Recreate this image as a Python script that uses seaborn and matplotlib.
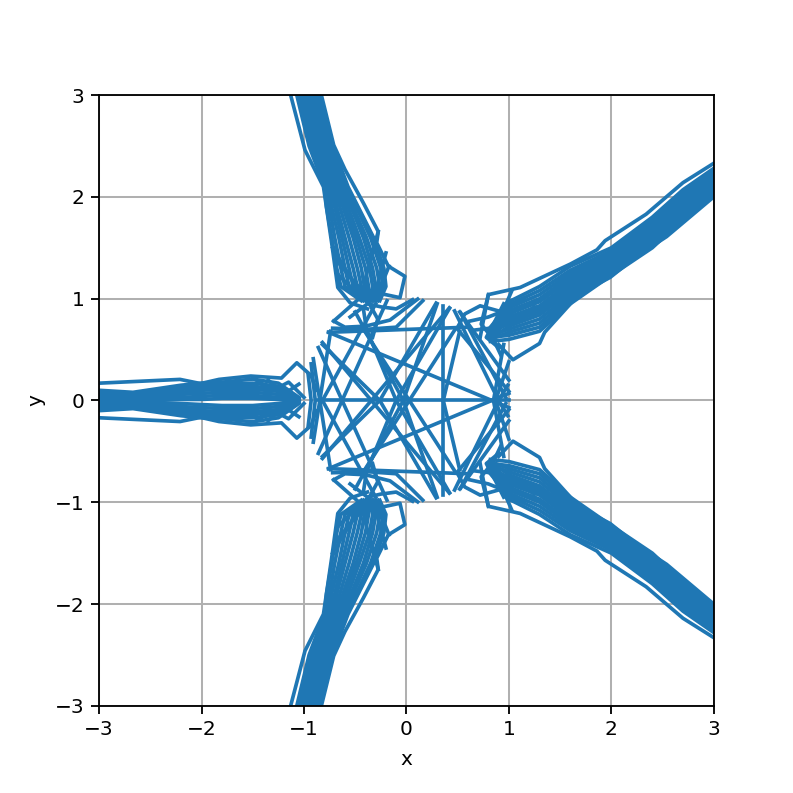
import pandas as pd
import seaborn as sns
import matplotlib.pyplot as plt

# upper right arm, y values at each x station
ur_x = [0.82, 1.0, 1.3, 1.6, 2.0, 2.4, 2.7, 3.0]
ur_rows = [
    [0.58, 0.60, 0.68, 0.95, 1.23, 1.50, 1.78, 2.03],
    [0.62, 0.64, 0.72, 0.98, 1.25, 1.52, 1.80, 2.05],
    [0.60, 0.67, 0.76, 1.01, 1.27, 1.54, 1.82, 2.07],
    [0.64, 0.70, 0.80, 1.04, 1.29, 1.56, 1.84, 2.09],
    [0.60, 0.73, 0.84, 1.07, 1.31, 1.58, 1.86, 2.11],
    [0.66, 0.76, 0.87, 1.10, 1.33, 1.61, 1.88, 2.13],
    [0.62, 0.79, 0.90, 1.13, 1.35, 1.63, 1.90, 2.15],
    [0.68, 0.82, 0.93, 1.16, 1.37, 1.65, 1.92, 2.17],
    [0.64, 0.85, 0.97, 1.19, 1.40, 1.68, 1.95, 2.19],
    [0.70, 0.88, 1.00, 1.22, 1.43, 1.71, 1.98, 2.21],
    [0.64, 0.91, 1.04, 1.25, 1.45, 1.74, 2.01, 2.24],
    [0.72, 0.94, 1.08, 1.28, 1.47, 1.77, 2.04, 2.26],
    [0.66, 0.97, 1.12, 1.32, 1.50, 1.80, 2.07, 2.28],
]

# lower right arm
lr_x = [0.82, 1.0, 1.3, 1.6, 2.0, 2.4, 2.7, 3.0]
lr_rows = [
    [-0.58, -0.60, -0.68, -0.95, -1.23, -1.50, -1.78, -2.03],
    [-0.62, -0.64, -0.72, -0.98, -1.25, -1.52, -1.80, -2.05],
    [-0.60, -0.67, -0.76, -1.01, -1.27, -1.54, -1.82, -2.07],
    [-0.64, -0.70, -0.80, -1.04, -1.29, -1.56, -1.84, -2.09],
    [-0.60, -0.73, -0.84, -1.07, -1.31, -1.58, -1.86, -2.11],
    [-0.66, -0.76, -0.87, -1.10, -1.33, -1.61, -1.88, -2.13],
    [-0.62, -0.79, -0.90, -1.13, -1.35, -1.63, -1.90, -2.15],
    [-0.68, -0.82, -0.93, -1.16, -1.37, -1.65, -1.92, -2.17],
    [-0.64, -0.85, -0.97, -1.19, -1.40, -1.68, -1.95, -2.19],
    [-0.70, -0.88, -1.00, -1.22, -1.43, -1.71, -1.98, -2.21],
    [-0.64, -0.91, -1.04, -1.25, -1.45, -1.74, -2.01, -2.24],
    [-0.72, -0.94, -1.08, -1.28, -1.47, -1.77, -2.04, -2.26],
    [-0.66, -0.97, -1.12, -1.32, -1.50, -1.80, -2.07, -2.28],
]

# left arm
left_x = [-3.0, -2.67, -2.2, -2.0, -1.8, -1.5, -1.25, -1.05]
left_rows = [
    [0.10, 0.08, 0.15, 0.17, 0.18, 0.21, 0.17, 0.03],
    [0.08, 0.07, 0.13, 0.14, 0.16, 0.17, 0.14, 0.00],
    [0.06, 0.05, 0.11, 0.12, 0.14, 0.14, 0.11, -0.02],
    [0.04, 0.04, 0.08, 0.10, 0.11, 0.11, 0.09, 0.02],
    [0.03, 0.03, 0.06, 0.07, 0.08, 0.08, 0.06, -0.01],
    [0.01, 0.01, 0.03, 0.04, 0.05, 0.05, 0.03, 0.00],
    [0.00, 0.00, 0.01, 0.01, 0.02, 0.02, 0.01, 0.00],
    [-0.01, -0.01, -0.03, -0.04, -0.05, -0.05, -0.03, 0.00],
    [-0.03, -0.03, -0.06, -0.07, -0.08, -0.08, -0.06, 0.01],
    [-0.04, -0.04, -0.08, -0.10, -0.11, -0.11, -0.09, -0.02],
    [-0.06, -0.05, -0.11, -0.12, -0.14, -0.14, -0.11, 0.02],
    [-0.08, -0.07, -0.13, -0.14, -0.16, -0.17, -0.14, 0.00],
    [-0.10, -0.08, -0.15, -0.17, -0.18, -0.21, -0.17, -0.03],
]

# top arm, x values at each y station
top_y = [3.0, 2.5, 2.1, 1.9, 1.6, 1.3, 1.12, 0.98]
top_rows = [
    [-1.07, -0.95, -0.80, -0.78, -0.73, -0.68, -0.64, -0.44],
    [-1.05, -0.93, -0.78, -0.75, -0.70, -0.64, -0.60, -0.42],
    [-1.03, -0.91, -0.76, -0.73, -0.66, -0.60, -0.56, -0.40],
    [-1.01, -0.89, -0.74, -0.70, -0.63, -0.56, -0.52, -0.39],
    [-0.99, -0.87, -0.72, -0.68, -0.60, -0.52, -0.48, -0.38],
    [-0.97, -0.85, -0.70, -0.65, -0.56, -0.48, -0.44, -0.37],
    [-0.95, -0.83, -0.68, -0.62, -0.52, -0.44, -0.41, -0.35],
    [-0.93, -0.81, -0.66, -0.60, -0.49, -0.40, -0.37, -0.34],
    [-0.91, -0.79, -0.64, -0.57, -0.46, -0.36, -0.33, -0.33],
    [-0.89, -0.77, -0.62, -0.54, -0.42, -0.33, -0.30, -0.31],
    [-0.87, -0.75, -0.60, -0.52, -0.39, -0.29, -0.26, -0.30],
    [-0.85, -0.73, -0.58, -0.49, -0.35, -0.25, -0.23, -0.28],
    [-0.84, -0.72, -0.57, -0.47, -0.32, -0.22, -0.20, -0.26],
]

# bottom arm
bot_y = [-3.0, -2.5, -2.1, -1.9, -1.6, -1.3, -1.12, -0.98]
bot_rows = [
    [-1.07, -0.95, -0.80, -0.78, -0.73, -0.68, -0.64, -0.44],
    [-1.05, -0.93, -0.78, -0.75, -0.70, -0.64, -0.60, -0.42],
    [-1.03, -0.91, -0.76, -0.73, -0.66, -0.60, -0.56, -0.40],
    [-1.01, -0.89, -0.74, -0.70, -0.63, -0.56, -0.52, -0.39],
    [-0.99, -0.87, -0.72, -0.68, -0.60, -0.52, -0.48, -0.38],
    [-0.97, -0.85, -0.70, -0.65, -0.56, -0.48, -0.44, -0.37],
    [-0.95, -0.83, -0.68, -0.62, -0.52, -0.44, -0.41, -0.35],
    [-0.93, -0.81, -0.66, -0.60, -0.49, -0.40, -0.37, -0.34],
    [-0.91, -0.79, -0.64, -0.57, -0.46, -0.36, -0.33, -0.33],
    [-0.89, -0.77, -0.62, -0.54, -0.42, -0.33, -0.30, -0.31],
    [-0.87, -0.75, -0.60, -0.52, -0.39, -0.29, -0.26, -0.30],
    [-0.85, -0.73, -0.58, -0.49, -0.35, -0.25, -0.23, -0.28],
    [-0.84, -0.72, -0.57, -0.47, -0.32, -0.22, -0.20, -0.26],
]

# single paths: outlines of the arms, spurs near the hubs, chords of the centre
path_x = [
    # upper right outline and spurs
    [0.72, 0.80, 1.11, 1.60, 1.86, 1.94, 2.34, 2.70, 3.00],
    [0.90, 1.04, 1.30, 1.35, 1.69, 1.99, 2.25, 2.54, 3.00],
    [0.50, 0.57, 0.72, 0.97, 1.10],
    [0.80, 0.73, 0.85, 0.92],
    [0.65, 0.90, 1.05, 1.25],
    [0.62, 0.80, 0.95, 1.15],
    [0.95, 0.85, 0.78, 0.90],
    [1.03, 0.90, 0.80],
    # lower right outline and spurs
    [0.72, 0.80, 1.11, 1.60, 1.86, 1.94, 2.34, 2.70, 3.00],
    [0.90, 1.04, 1.30, 1.35, 1.69, 1.99, 2.25, 2.54, 3.00],
    [0.50, 0.57, 0.72, 0.97, 1.10],
    [0.80, 0.73, 0.85, 0.92],
    [0.65, 0.90, 1.05, 1.25],
    [0.62, 0.80, 0.95, 1.15],
    [0.95, 0.85, 0.78, 0.90],
    [1.03, 0.90, 0.80],
    # left outline and spurs
    [-3.00, -2.21, -2.01, -1.83, -1.52, -1.22, -1.07, -0.93, -0.88],
    [-3.00, -2.21, -2.01, -1.83, -1.52, -1.22, -1.07, -0.93, -0.88],
    [-1.50, -1.30, -1.15, -1.00],
    [-1.50, -1.30, -1.15, -1.00],
    [-1.35, -1.20, -1.05],
    [-1.35, -1.20, -1.05],
    # top outline and spurs
    [-1.13, -0.99, -0.81, -0.73, -0.67, -0.55, -0.38],
    [-0.83, -0.71, -0.60, -0.42, -0.275, -0.29, -0.177, -0.015, -0.063, -0.25],
    [-0.275, -0.40, -0.35],
    [-0.72, -0.45, -0.33],
    [-0.70, -0.50, -0.33],
    [-0.68, -0.55, -0.35],
    [-0.17, -0.25, -0.38],
    [-0.20, -0.32],
    [-0.71, -0.44],
    [-0.71, -0.60, -0.40, -0.16, 0.11],
    [-0.72, -0.38, -0.10, 0.16],
    [-0.40, -0.28, -0.33],
    [-0.55, -0.38, -0.25, -0.10, 0.06],
    # bottom outline and spurs
    [-1.13, -0.99, -0.81, -0.73, -0.67, -0.55, -0.38],
    [-0.83, -0.71, -0.60, -0.42, -0.275, -0.29, -0.177, -0.015, -0.063, -0.25],
    [-0.275, -0.40, -0.35],
    [-0.72, -0.45, -0.33],
    [-0.70, -0.50, -0.33],
    [-0.68, -0.55, -0.35],
    [-0.17, -0.25, -0.38],
    [-0.20, -0.32],
    [-0.71, -0.44],
    [-0.71, -0.60, -0.40, -0.16, 0.11],
    [-0.72, -0.38, -0.10, 0.16],
    [-0.40, -0.28, -0.33],
    [-0.55, -0.38, -0.25, -0.10, 0.06],
    # chords
    [-0.86, 1.00],
    [-0.76, 1.00],
    [-0.76, 1.00],
    [-0.82, 0.42],
    [-0.82, 0.42],
    [-0.86, -0.19],
    [-0.86, -0.19],
    [-0.909, -0.74],
    [-0.909, -0.74],
    [0.29, -0.26, -0.82],
    [0.29, -0.26, -0.82],
    [0.36, 0.36],
    [0.42, -0.10, -0.39, -0.42],
    [0.42, -0.10, -0.39, -0.42],
    [-0.50, -0.03, 0.30],
    [-0.50, -0.03, 0.30],
    [-0.30, -0.82, -0.30],
    [0.47, 0.90, 0.99],
    [0.47, 0.90, 0.99],
    [0.52, 0.36],
    [0.52, 0.36],
    [0.53, 0.97],
    [0.53, 0.97],
    [0.47, -0.42],
    [0.47, -0.42],
    [0.50, 1.00],
    [0.50, 1.00],
    [-0.76, 0.60],
    [-0.76, 0.60],
    [-0.93, -0.89, -0.93],
    [-0.96, -0.93, -0.96],
    [0.52, 1.00],
    [0.52, 1.00],
    [0.95, 0.85],
    [0.95, 0.85],
    [1.00, 0.87],
    [1.00, 0.87],
]
path_y = [
    [0.62, 1.04, 1.11, 1.34, 1.48, 1.57, 1.83, 2.14, 2.33],
    [0.55, 0.40, 0.56, 0.67, 1.05, 1.21, 1.42, 1.61, 2.00],
    [0.72, 0.85, 0.93, 0.86, 0.80],
    [1.04, 0.75, 0.60, 0.45],
    [0.69, 0.72, 0.78, 0.92],
    [0.78, 0.82, 0.88, 1.00],
    [0.95, 0.75, 0.62, 0.52],
    [1.08, 0.78, 0.62],
    [-0.62, -1.04, -1.11, -1.34, -1.48, -1.57, -1.83, -2.14, -2.33],
    [-0.55, -0.40, -0.56, -0.67, -1.05, -1.21, -1.42, -1.61, -2.00],
    [-0.72, -0.85, -0.93, -0.86, -0.80],
    [-1.04, -0.75, -0.60, -0.45],
    [-0.69, -0.72, -0.78, -0.92],
    [-0.78, -0.82, -0.88, -1.00],
    [-0.95, -0.75, -0.62, -0.52],
    [-1.08, -0.78, -0.62],
    [0.17, 0.207, 0.166, 0.207, 0.24, 0.22, 0.37, 0.245, 0.10],
    [-0.17, -0.207, -0.166, -0.207, -0.24, -0.22, -0.37, -0.245, -0.10],
    [0.22, 0.10, 0.18, 0.03],
    [-0.22, -0.10, -0.18, -0.03],
    [0.20, 0.06, 0.16],
    [-0.20, -0.06, -0.16],
    [3.00, 2.46, 2.10, 1.55, 1.11, 0.96, 0.90],
    [3.00, 2.51, 2.27, 1.94, 1.66, 1.55, 1.32, 1.22, 1.01, 1.05],
    [1.66, 1.20, 1.00],
    [1.50, 1.05, 0.98],
    [1.40, 1.15, 1.00],
    [1.25, 1.12, 1.00],
    [1.32, 1.12, 1.00],
    [1.45, 1.00],
    [0.78, 1.02],
    [0.78, 0.72, 0.73, 0.79, 0.996],
    [0.71, 0.70, 0.72, 0.98],
    [1.02, 0.80, 0.62],
    [0.82, 0.95, 0.92, 0.90, 0.99],
    [-3.00, -2.46, -2.10, -1.55, -1.11, -0.96, -0.90],
    [-3.00, -2.51, -2.27, -1.94, -1.66, -1.55, -1.32, -1.22, -1.01, -1.05],
    [-1.66, -1.20, -1.00],
    [-1.50, -1.05, -0.98],
    [-1.40, -1.15, -1.00],
    [-1.25, -1.12, -1.00],
    [-1.32, -1.12, -1.00],
    [-1.45, -1.00],
    [-0.78, -1.02],
    [-0.78, -0.72, -0.73, -0.79, -0.996],
    [-0.71, -0.70, -0.72, -0.98],
    [-1.02, -0.80, -0.62],
    [-0.82, -0.95, -0.92, -0.90, -0.99],
    [0.00, 0.00],
    [0.67, -0.07],
    [-0.67, 0.07],
    [0.57, -0.91],
    [-0.57, 0.91],
    [0.52, -0.98],
    [-0.52, 0.98],
    [0.41, -0.68],
    [-0.41, 0.68],
    [0.956, 0.00, -0.55],
    [-0.956, 0.00, 0.55],
    [0.93, -0.93],
    [0.905, 0.00, -0.70, -0.90],
    [-0.905, 0.00, 0.70, 0.90],
    [0.87, 0.00, -0.95],
    [-0.87, 0.00, 0.95],
    [0.95, 0.00, -0.95],
    [0.88, 0.00, -0.15],
    [-0.88, 0.00, 0.15],
    [0.68, 0.00],
    [-0.68, 0.00],
    [0.86, 0.03],
    [-0.86, -0.03],
    [0.69, -0.70],
    [-0.69, 0.70],
    [0.70, 0.09],
    [-0.70, -0.09],
    [0.67, 0.72],
    [-0.67, -0.72],
    [0.36, 0.00, -0.36],
    [0.26, 0.00, -0.26],
    [0.87, 0.20],
    [-0.87, -0.20],
    [0.55, 0.00],
    [-0.55, 0.00],
    [0.38, 0.00],
    [-0.38, 0.00],
]

# one row per point, each drawn path has its own id
rows = []
pid = 0
for row in ur_rows:
    for a, b in zip(ur_x, row):
        rows.append((pid, a, b))
    pid += 1
for row in lr_rows:
    for a, b in zip(lr_x, row):
        rows.append((pid, a, b))
    pid += 1
for row in left_rows:
    for a, b in zip(left_x, row):
        rows.append((pid, a, b))
    pid += 1
for row in top_rows:
    for a, b in zip(row, top_y):
        rows.append((pid, a, b))
    pid += 1
for row in bot_rows:
    for a, b in zip(row, bot_y):
        rows.append((pid, a, b))
    pid += 1
for xs, ys in zip(path_x, path_y):
    for a, b in zip(xs, ys):
        rows.append((pid, a, b))
    pid += 1
df = pd.DataFrame(rows, columns=['path', 'x', 'y'])

fig, ax = plt.subplots(figsize=(793 / 132, 793 / 132), dpi=132)
sns.lineplot(data=df, x='x', y='y', units='path', estimator=None, sort=False,
             color='#1f77b4', linewidth=2.0, legend=False, ax=ax)
ax.set_xlim(-3, 3)
ax.set_ylim(-3, 3)
ax.set_xticks([-3, -2, -1, 0, 1, 2, 3])
ax.set_yticks([-3, -2, -1, 0, 1, 2, 3])
ax.tick_params(labelsize=11, width=1.0, length=4.5)
ax.set_xlabel('x', fontsize=11, labelpad=6)
ax.set_ylabel('y', fontsize=11, labelpad=5)
ax.grid(True, linewidth=1.1)
ax.set_axisbelow(True)
for s in ax.spines.values():
    s.set_linewidth(1.0)
fig.savefig('out.png', dpi=132)
